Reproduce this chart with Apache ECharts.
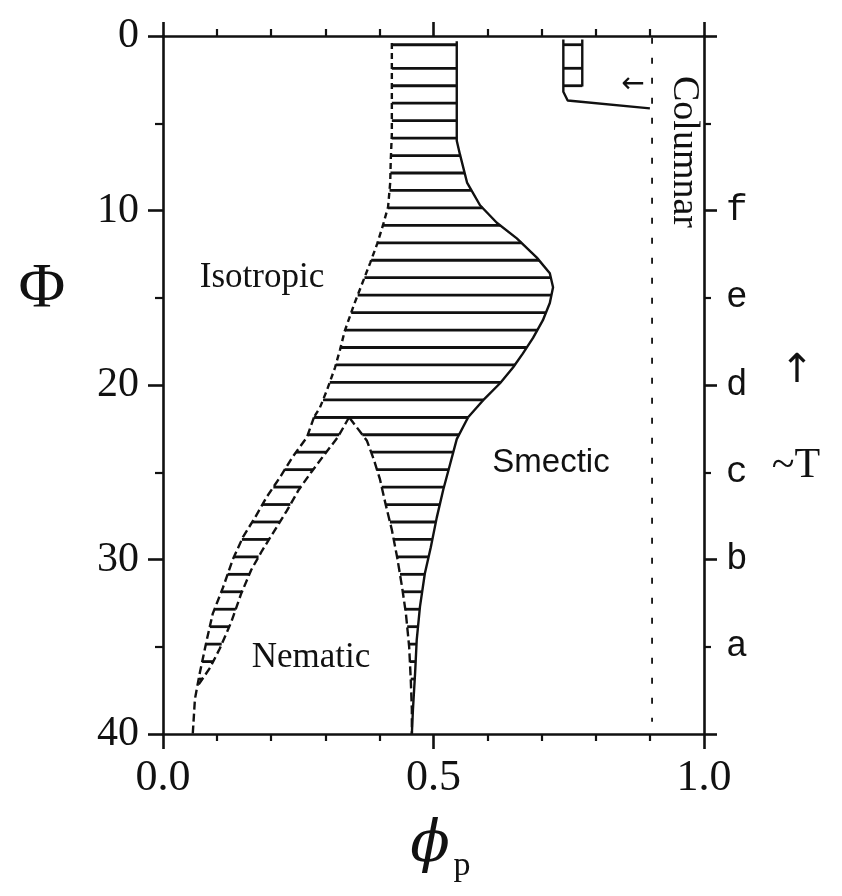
<!DOCTYPE html>
<html>
<head>
<meta charset="utf-8">
<title>Phase diagram</title>
<script src="https://cdn.jsdelivr.net/npm/echarts@6/dist/echarts.min.js"></script>
<style>
  html, body { margin: 0; padding: 0; background: #fff; }
  #chart { width: 842px; height: 896px; }
</style>
</head>
<body>
<div id="chart"></div>
<script>
// Phase boundaries, each point is [phi_p, Phi]
const isoTop = [[0.423,0.4],[0.423,3.7],[0.423,5.6],[0.421,7.1],[0.420,8.4],[0.416,9.8],[0.407,10.8],[0.396,11.9],[0.383,13.0],[0.368,14.2],[0.353,15.4],[0.336,16.9],[0.327,18.0],[0.318,19.0],[0.303,20.3],[0.290,21.3],[0.279,21.85]];
const isoNem = [[0.279,21.85],[0.266,23.0],[0.240,24.1],[0.216,25.3],[0.192,26.4],[0.170,27.6],[0.148,28.7],[0.129,30.0],[0.111,31.6],[0.092,33.1],[0.081,34.6],[0.068,36.5],[0.059,38.0],[0.055,40]];
const smTop = [[0.543,0.3],[0.543,3.7],[0.543,6.0],[0.549,6.8],[0.562,8.4],[0.586,9.7],[0.617,10.7],[0.654,11.6],[0.691,12.7],[0.715,13.6],[0.721,14.4],[0.715,15.3],[0.702,16.3],[0.684,17.3],[0.665,18.2],[0.647,19.0],[0.623,19.9],[0.591,20.9],[0.564,21.85]];
const smNem = [[0.564,21.85],[0.543,23.1],[0.531,24.5],[0.518,26.0],[0.506,27.6],[0.495,29.3],[0.484,30.8],[0.475,32.7],[0.469,34.6],[0.466,36.5],[0.462,38.6],[0.460,40]];
const nemLeft = [[0.344,21.85],[0.323,23.0],[0.298,24.0],[0.274,25.0],[0.251,26.0],[0.229,27.2],[0.207,28.3],[0.183,29.5],[0.163,30.6],[0.144,32.0],[0.126,33.6],[0.105,35.1],[0.087,36.2],[0.063,37.3]];
const nemRight = [[0.344,21.85],[0.360,22.5],[0.377,23.2],[0.390,24.3],[0.401,25.4],[0.412,26.9],[0.423,28.3],[0.433,29.9],[0.442,31.6],[0.449,33.1],[0.455,35.0],[0.458,36.9],[0.460,38.6],[0.460,40]];
const tripleLine = [[0.279,21.85],[0.564,21.85]];
const colLeft = [[0.740,0.2],[0.740,3.2],[0.748,3.7],[0.900,4.15]];
const colRight = [[0.775,0.2],[0.775,2.9]];
const colRegion = [[0.740,0.2],[0.740,3.3],[0.775,3.0],[0.775,0.2]];
const colBoundary = [[0.904,0.1],[0.904,39.3]];

// Tie lines (hatching) through the two-phase regions
const hatchLevels = [0.5,1.85,2.85,3.85,4.85,5.85,6.85,7.85,8.85,9.85,10.85,11.85,12.85,13.85,14.85,15.85,16.85,17.85,18.85,19.85,20.85,21.85,22.85,23.85,24.85,25.85,26.85,27.85,28.85,29.85,30.85,31.85,32.85,33.85,34.85,35.85,36.85];

// Axis tick labels
const xTickLabels = {0: '0.0', 0.5: '0.5', 1: '1.0'};
const rightLabelValues = [10, 15, 20, 25, 30, 35];
const rightLetters = ['f', 'e', 'd', 'c', 'b', 'a'];

const INK = '#111';
const SERIF = '"Liberation Serif", "DejaVu Serif", serif';

// Two-phase region outlines used for the hatching
const regionIsoSm = isoTop.concat(smTop.slice().reverse());
const regionIsoNem = isoNem.concat(nemLeft.slice().reverse());
const regionNemSm = nemRight.concat(smNem.slice().reverse());

// Scanline: horizontal segments of a polygon at a given Phi
function scanSegments(poly, level) {
  const xs = [];
  for (let i = 0; i < poly.length; i++) {
    const a = poly[i], b = poly[(i + 1) % poly.length];
    if (a[1] === b[1]) continue;
    const lo = Math.min(a[1], b[1]), hi = Math.max(a[1], b[1]);
    if (level >= lo && level < hi) {
      xs.push(a[0] + (level - a[1]) * (b[0] - a[0]) / (b[1] - a[1]));
    }
  }
  xs.sort((p, q) => p - q);
  const segs = [];
  for (let i = 0; i + 1 < xs.length; i += 2) segs.push([xs[i], xs[i + 1]]);
  return segs;
}

function hatchSeries(poly) {
  return {
    type: 'custom',
    coordinateSystem: 'cartesian2d',
    xAxisIndex: 0, yAxisIndex: 0,
    silent: true,
    data: hatchLevels.map(v => [v]),
    renderItem: function (params, api) {
      const level = api.value(0);
      const segs = scanSegments(poly, level);
      return {
        type: 'group',
        children: segs.map(s => {
          const p1 = api.coord([s[0], level]);
          const p2 = api.coord([s[1], level]);
          return {
            type: 'line',
            shape: { x1: p1[0], y1: p1[1], x2: p2[0], y2: p2[1] },
            style: { stroke: INK, lineWidth: 2.8 }
          };
        })
      };
    }
  };
}

function boundary(data, dash, width) {
  return {
    type: 'line',
    xAxisIndex: 0, yAxisIndex: 0,
    data: data,
    showSymbol: false,
    silent: true,
    lineStyle: { color: INK, width: width || 2.4, type: dash || 'solid' },
    z: 3
  };
}

const axisLine = { show: true, onZero: false, lineStyle: { color: INK, width: 2.6 } };
const majorTick = len => ({ show: true, length: len, lineStyle: { color: INK, width: 2.6 } });
const minorTick = (n, len) => ({ show: true, splitNumber: n, length: len, lineStyle: { color: INK, width: 2.2 } });

const chart = echarts.init(document.getElementById('chart'), null, { renderer: 'canvas' });

chart.setOption({
  animation: false,
  backgroundColor: '#fff',
  grid: { left: 163, right: 138, top: 36, bottom: 162, containLabel: false },
  xAxis: [
    {
      type: 'value', position: 'bottom', min: 0, max: 1, interval: 0.5,
      axisLine: axisLine,
      axisTick: majorTick(15),
      minorTick: minorTick(5, 7),
      axisLabel: { formatter: v => xTickLabels[v], fontSize: 44, fontFamily: SERIF, color: INK, margin: 22 },
      splitLine: { show: false }
    },
    {
      type: 'value', position: 'top', min: 0, max: 1, interval: 0.5,
      axisLine: axisLine,
      axisTick: majorTick(14),
      minorTick: minorTick(5, 7),
      axisLabel: { show: false },
      splitLine: { show: false }
    }
  ],
  yAxis: [
    {
      type: 'value', position: 'left', inverse: true, min: 0, max: 40, interval: 10,
      axisLine: axisLine,
      axisTick: majorTick(15),
      minorTick: minorTick(2, 8),
      axisLabel: { fontSize: 42, fontFamily: SERIF, color: INK, margin: 24 },
      splitLine: { show: false }
    },
    {
      type: 'value', position: 'right', inverse: true, min: 0, max: 40, interval: 10,
      axisLine: axisLine,
      axisTick: majorTick(13),
      minorTick: minorTick(2, 7),
      axisLabel: {
        customValues: rightLabelValues,
        formatter: v => rightLetters[rightLabelValues.indexOf(v)],
        fontSize: 36, fontFamily: '"Liberation Mono", monospace', color: INK, margin: 22
      },
      splitLine: { show: false }
    }
  ],
  series: [
    hatchSeries(regionIsoSm),
    hatchSeries(regionIsoNem),
    hatchSeries(regionNemSm),
    hatchSeries(colRegion),
    boundary(isoTop, [6, 4]),
    boundary(isoNem, [8, 4]),
    boundary(smTop, 'solid'),
    boundary(smNem, 'solid'),
    boundary(nemLeft, [8, 4]),
    boundary(nemRight, [9, 4]),
    boundary(tripleLine, 'solid', 2.8),
    boundary(colLeft, 'solid'),
    boundary(colRight, 'solid'),
    boundary(colBoundary, [6, 14], 1.8)
  ],
  graphic: [
    { type: 'text', x: 262, y: 278, style: { text: 'Isotropic', font: '35px ' + SERIF, fill: INK, textAlign: 'center', textVerticalAlign: 'middle' } },
    { type: 'text', x: 311, y: 658, style: { text: 'Nematic', font: '35px ' + SERIF, fill: INK, textAlign: 'center', textVerticalAlign: 'middle' } },
    { type: 'text', x: 551, y: 463, style: { text: 'Smectic', font: '33px "Liberation Sans", sans-serif', fill: INK, textAlign: 'center', textVerticalAlign: 'middle' } },
    { type: 'text', x: 684, y: 152, rotation: -Math.PI / 2, style: { text: 'Columnar', font: '38px ' + SERIF, fill: INK, textAlign: 'center', textVerticalAlign: 'middle' } },
    { type: 'text', x: 633, y: 85, style: { text: '←', font: '28px "DejaVu Sans", sans-serif', fill: INK, textAlign: 'center', textVerticalAlign: 'middle' } },
    { type: 'text', x: 42, y: 290, style: { text: 'Φ', font: '64px ' + SERIF, fill: INK, textAlign: 'center', textVerticalAlign: 'middle' } },
    { type: 'text', x: 797, y: 372, style: { text: '↑', font: '40px "DejaVu Sans", sans-serif', fill: INK, textAlign: 'center', textVerticalAlign: 'middle' } },
    { type: 'text', x: 796, y: 466, style: { text: '~T', font: '42px ' + SERIF, fill: INK, textAlign: 'center', textVerticalAlign: 'middle' } },
    { type: 'text', x: 430, y: 846, style: { text: 'ϕ', font: 'italic 58px "DejaVu Serif", serif', fill: INK, textAlign: 'center', textVerticalAlign: 'middle' } },
    { type: 'text', x: 462, y: 866, style: { text: 'p', font: '34px ' + SERIF, fill: INK, textAlign: 'center', textVerticalAlign: 'middle' } }
  ]
});
</script>
</body>
</html>
